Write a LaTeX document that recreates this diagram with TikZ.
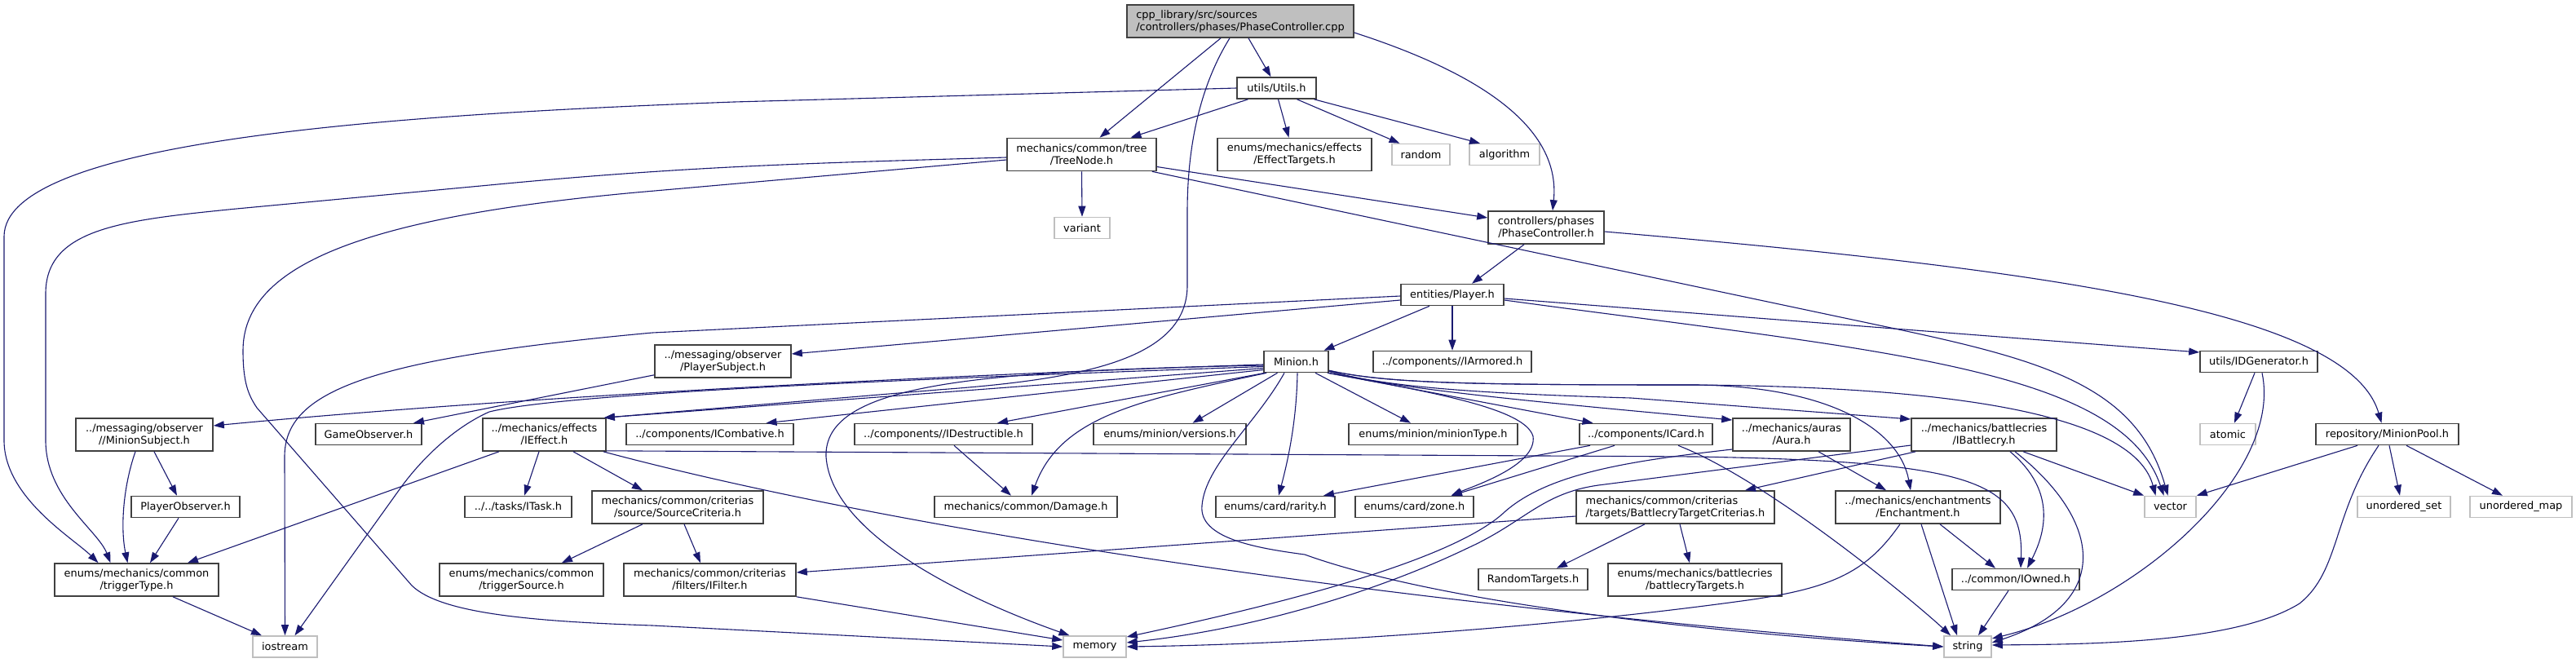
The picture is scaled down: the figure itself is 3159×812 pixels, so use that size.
\documentclass[tikz,border=0pt]{standalone}
\usepackage{fontspec}
\newfontfamily\dvs{DejaVu Sans}
\usetikzlibrary{arrows.meta}
\definecolor{edgeblue}{HTML}{191970}
\definecolor{boxline}{HTML}{404040}
\definecolor{sysline}{HTML}{BFBFBF}
\definecolor{rootfill}{HTML}{BFBFBF}
\begin{document}
\begin{tikzpicture}[x=1pt,y=-1pt,
  every node/.style={font=\dvs\fontsize{12.9pt}{15pt}\selectfont, inner sep=0pt, text=black},
  nb/.style={draw=boxline, line width=1.6pt, fill=white, minimum height=26pt},
  nb2/.style={nb, minimum height=40pt, align=center},
  gb/.style={draw=sysline, line width=1.6pt, fill=white, minimum height=26pt},
  conn/.style={draw=edgeblue, line width=1.1pt, -{Triangle[length=13pt,width=9pt]}}]
\fill[white] (0,0) rectangle (3159,812);
\useasboundingbox (0,0) rectangle (3159,812);
% nodes
\node[nb2, fill=rootfill, align=left, minimum width=278pt] (root) at (1521,26) {cpp\_library/src/sources\\/controllers/phases/PhaseController.cpp};
\node[nb, minimum width=97pt] (utils) at (1565.5,108) {utils/Utils.h};
\node[nb2, minimum width=183pt] (tree) at (1326.5,189.5) {mechanics/common/tree\\/TreeNode.h};
\node[nb2, minimum width=189pt] (efft) at (1587.5,189.5) {enums/mechanics/effects\\/EffectTargets.h};
\node[gb, minimum width=71pt] (random) at (1742.5,189.5) {random};
\node[gb, minimum width=86pt] (algo) at (1845,189.5) {algorithm};
\node[gb, minimum width=68pt] (variant) at (1327,279.5) {variant};
\node[nb2, minimum width=142pt] (phase) at (1896,279) {controllers/phases\\/PhaseController.h};
\node[nb, minimum width=126pt] (player) at (1781,361.5) {entities/Player.h};
\node[nb2, minimum width=167pt] (psub) at (886.5,443) {../messaging/observer\\/PlayerSubject.h};
\node[nb, minimum width=79pt] (minion) at (1589.5,443.5) {Minion.h};
\node[nb, minimum width=194pt] (iarm) at (1781,443.5) {../components//IArmored.h};
\node[nb, minimum width=144pt] (idgen) at (2770,443.5) {utils/IDGenerator.h};
\node[nb2, minimum width=168pt] (msub) at (177,533) {../messaging/observer\\//MinionSubject.h};
\node[nb, minimum width=130pt] (gobs) at (452,532.5) {GameObserver.h};
\node[nb2, minimum width=151pt] (ieff) at (667.5,533) {../mechanics/effects\\/IEffect.h};
\node[nb, minimum width=205pt] (icomb) at (870.5,532.5) {../components/ICombative.h};
\node[nb, minimum width=218pt] (idest) at (1157,532.5) {../components//IDestructible.h};
\node[nb, minimum width=187pt] (vers) at (1434.5,532.5) {enums/minion/versions.h};
\node[nb, minimum width=207pt] (mtype) at (1757.5,532.5) {enums/minion/minionType.h};
\node[nb, minimum width=163pt] (icard) at (2018.5,532.5) {../components/ICard.h};
\node[nb2, minimum width=144pt] (aura) at (2197,533) {../mechanics/auras\\/Aura.h};
\node[nb2, minimum width=178pt] (ibat) at (2433,533) {../mechanics/battlecries\\/IBattlecry.h};
\node[gb, minimum width=68pt] (atomic) at (2732,532.5) {atomic};
\node[nb, minimum width=175pt] (mpool) at (2927.5,532.5) {repository/MinionPool.h};
\node[nb, minimum width=133pt] (pobs) at (227.5,621.5) {PlayerObserver.h};
\node[nb, minimum width=131pt] (itask) at (635.5,621.5) {../../tasks/ITask.h};
\node[nb2, minimum width=210pt] (srcc) at (831,622) {mechanics/common/criterias\\/source/SourceCriteria.h};
\node[nb, minimum width=224pt] (damage) at (1258,621.5) {mechanics/common/Damage.h};
\node[nb, minimum width=146pt] (rarity) at (1564,621.5) {enums/card/rarity.h};
\node[nb, minimum width=145pt] (zone) at (1734.5,621.5) {enums/card/zone.h};
\node[nb2, align=left, minimum width=243pt] (btc) at (2054.5,622) {mechanics/common/criterias\\/targets/BattlecryTargetCriterias.h};
\node[nb2, minimum width=202pt] (ench) at (2352,622) {../mechanics/enchantments\\/Enchantment.h};
\node[gb, minimum width=63pt] (vector) at (2661.5,621.5) {vector};
\node[gb, minimum width=114pt] (uset) at (2948,621.5) {unordered\_set};
\node[gb, minimum width=125pt] (umap) at (3091.5,621.5) {unordered\_map};
\node[nb2, minimum width=201pt] (ttype) at (167.5,711) {enums/mechanics/common\\/triggerType.h};
\node[nb2, minimum width=201pt] (tsrc) at (639.5,711) {enums/mechanics/common\\/triggerSource.h};
\node[nb2, minimum width=211pt] (ifilt) at (870.5,711) {mechanics/common/criterias\\/filters/IFilter.h};
\node[nb, minimum width=134pt] (rtgt) at (1880,710.5) {RandomTargets.h};
\node[nb2, minimum width=213pt] (btgt) at (2078.5,711) {enums/mechanics/battlecries\\/battlecryTargets.h};
\node[nb, minimum width=156pt] (iowned) at (2472,710.5) {../common/IOwned.h};
\node[gb, minimum width=79pt] (iostream) at (349.5,793) {iostream};
\node[gb, minimum width=77pt] (memory) at (1342.5,793) {memory};
\node[gb, minimum width=58pt] (string) at (2413,793) {string};
% root
\draw[conn] ([xshift=-24pt]root.south) -- ([xshift=22pt]tree.north);
\draw[conn] ([xshift=10pt]root.south) -- ([xshift=-7pt]utils.north);
\draw[conn] ([xshift=-13pt]root.south) .. controls (1475,100) and (1456,170) .. (1456,260) -- (1456,350) .. controls (1456,440) and (1330,465) .. (1150,478) -- ([xshift=-3pt]ieff.north east);
\draw[conn] ([yshift=-14pt]root.east) .. controls (1800,85) and (1915,150) .. ([xshift=8pt]phase.north);
% utils
\draw[conn] ([xshift=-35pt]utils.south) -- ([xshift=60pt]tree.north);
\draw[conn] ([xshift=2pt]utils.south) -- ([xshift=-7pt]efft.north);
\draw[conn] ([xshift=25pt]utils.south) -- ([xshift=-26pt]random.north);
\draw[conn] ([xshift=46pt]utils.south) -- ([xshift=-30pt]algo.north);
\draw[conn] (utils.west) -- (900,125) .. controls (500,140) and (5,170) .. (5,290) -- (5,540) .. controls (5,610) and (90,660) .. ([xshift=-47pt]ttype.north);
% tree
\draw[conn] (tree.south) -- (variant.north);
\draw[conn] ([yshift=-15pt]tree.east) -- ([yshift=12pt]phase.west);
\draw[conn] ([xshift=-6pt]tree.south east) -- (2300,398) .. controls (2500,440) and (2620,470) .. ([xshift=-3pt]vector.north);
\draw[conn] ([yshift=-3.5pt]tree.west) .. controls (1000,200) and (850,203) .. (600,227) -- (290,256) .. controls (150,270) and (56,280) .. (56,360) -- (56,540) .. controls (56,610) and (120,650) .. ([xshift=-32pt]ttype.north);
\draw[conn] ([yshift=-6.5pt]tree.west) -- (780,236) .. controls (430,268) and (298,330) .. (298,430) .. controls (298,470) and (305,485) .. (315,500) -- (505,718) .. controls (540,752) and (650,762) .. (800,767) -- (memory.west);
% phase
\draw[conn] ([xshift=-27pt]phase.south) -- ([xshift=24pt]player.north);
\draw[conn] ([yshift=-5pt]phase.east) .. controls (2500,330) and (2880,380) .. ([xshift=-7pt]mpool.north);
% player
\draw[conn] ([xshift=-28pt]player.south) -- ([xshift=34pt]minion.north);
\draw[conn] (player.south) -- (iarm.north);
\draw[conn] ([yshift=-6.5pt]player.west) -- ([yshift=9pt]psub.east);
\draw[conn] ([yshift=-1.5pt]player.west) -- (800,408) .. controls (450,440) and (349,480) .. (349,560) -- (iostream.north);
\draw[conn] ([yshift=-4.5pt]player.east) -- ([yshift=11.5pt]idgen.west);
\draw[conn] ([yshift=-6.5pt]player.east) .. controls (2300,430) and (2600,450) .. ([xshift=-8pt]vector.north);
% minion
\draw[conn] ([yshift=-3.5pt]minion.west) .. controls (1300,455) and (700,480) .. ([yshift=11pt]msub.east);
\draw[conn] ([yshift=-6pt]minion.west) .. controls (1200,462) and (700,480) .. (600,505) .. controls (555,525) and (515,565) .. (490,600) -- ([xshift=12pt]iostream.north);
\draw[conn] ([yshift=-8pt]minion.west) -- ([xshift=-3pt]ieff.north east);
\draw[conn] ([yshift=-10pt]minion.west) -- ([xshift=69pt]icomb.north);
\draw[conn] ([xshift=2pt]minion.south west) -- ([xshift=66pt]idest.north);
\draw[conn] ([xshift=4pt]minion.south west) .. controls (1400,490) and (1300,510) .. ([xshift=7pt]damage.north);
\draw[conn] ([xshift=-23pt]minion.south) -- ([xshift=28pt]vers.north);
\draw[conn] ([yshift=-4.5pt]minion.west) .. controls (1200,455) and (1010,470) .. (1013,560) .. controls (1020,660) and (1200,740) .. ([xshift=-31pt]memory.north);
\draw[conn] ([xshift=1.5pt]minion.south) .. controls (1590,520) and (1578,570) .. ([xshift=4pt]rarity.north);
\draw[conn] ([xshift=-14.5pt]minion.south) .. controls (1540,520) and (1478,570) .. (1474,620) .. controls (1470,660) and (1540,672) .. (1600,680) .. controls (1780,745) and (2150,780) .. (string.west);
\draw[conn] ([xshift=23.5pt]minion.south) -- ([xshift=-27.5pt]mtype.north);
\draw[conn] ([xshift=-2pt]minion.south east) .. controls (1750,480) and (1870,500) .. (1880,535) .. controls (1885,570) and (1810,595) .. ([xshift=45pt]zone.north);
\draw[conn] ([xshift=-1pt]minion.south east) -- ([xshift=-65pt]icard.north);
\draw[conn] ([yshift=2pt]minion.south east) .. controls (1700,475) and (1850,490) .. ([yshift=18pt]aura.west);
\draw[conn] ([yshift=2pt]minion.south east) .. controls (1700,474) and (1800,482) .. (2000,488) -- ([yshift=19pt]ibat.west);
\draw[conn] ([yshift=3pt]minion.south east) .. controls (1700,470) and (1800,472) .. (2080,472) .. controls (2250,474) and (2330,530) .. ([xshift=-9pt]ench.north);
\draw[conn] ([yshift=3pt]minion.south east) .. controls (1700,470) and (1800,472) .. (2080,472) .. controls (2450,475) and (2620,520) .. ([xshift=-18pt]vector.north);
% observers
\draw[conn] ([yshift=4pt]psub.south west) -- ([xshift=55pt]gobs.north);
\draw[conn] ([xshift=12pt]msub.south) -- ([xshift=-10.5pt]pobs.north);
\draw[conn] ([xshift=-11pt]msub.south) .. controls (150,600) and (148,650) .. ([xshift=-11pt]ttype.north);
\draw[conn] ([xshift=-8.5pt]pobs.south) -- ([xshift=16.5pt]ttype.north);
\draw[conn] ([xshift=44.5pt]ttype.south) -- ([xshift=-28.5pt]iostream.north);
% ieffect
\draw[conn] ([xshift=-55.5pt]ieff.south) -- ([xshift=62.5pt]ttype.north);
\draw[conn] ([xshift=-6.5pt]ieff.south) -- ([xshift=7.5pt]itask.north);
\draw[conn] ([xshift=35.5pt]ieff.south) -- ([xshift=-43pt]srcc.north);
\draw[conn] ([yshift=1pt]ieff.south east) -- (2080,560) .. controls (2420,566) and (2482,590) .. ([xshift=6pt]iowned.north);
\draw[conn] ([xshift=-4pt]ieff.south east) .. controls (1100,650) and (1700,740) .. (string.west);
% criteria
\draw[conn] ([xshift=-43pt]srcc.south) -- ([xshift=49.5pt]tsrc.north);
\draw[conn] ([xshift=8pt]srcc.south) -- ([xshift=-11.5pt]ifilt.north);
\draw[conn] (ifilt.south east) -- ([yshift=8pt]memory.west);
\draw[conn] ([xshift=13pt]idest.south) -- ([xshift=-18pt]damage.north);
% icard
\draw[conn] ([xshift=-68.5pt]icard.south) -- ([xshift=59pt]rarity.north);
\draw[conn] ([xshift=-38.5pt]icard.south) -- ([xshift=45.5pt]zone.north);
\draw[conn] ([xshift=39.5pt]icard.south) .. controls (2170,590) and (2350,740) .. ([xshift=-21pt]string.north);
% aura
\draw[conn] ([xshift=33pt]aura.south) -- ([xshift=-39pt]ench.north);
\draw[conn] ([yshift=-18pt]aura.west) .. controls (2000,565) and (1900,580) .. (1846,627) .. controls (1780,690) and (1550,745) .. ([yshift=12pt]memory.east);
% ibattlecry
\draw[conn] ([xshift=6pt]ibat.south west) -- ([xshift=85.5pt]btc.north);
\draw[conn] ([yshift=-13pt]ibat.west) -- (1960,595) .. controls (1890,605) and (1870,640) .. (1800,672) .. controls (1700,720) and (1550,770) .. ([yshift=5pt]memory.east);
\draw[conn] ([xshift=48pt]ibat.south) -- (vector.north west);
\draw[conn] ([xshift=32pt]ibat.south) .. controls (2520,600) and (2510,650) .. ([xshift=14pt]iowned.north);
\draw[conn] ([xshift=38pt]ibat.south) .. controls (2580,640) and (2590,740) .. ([yshift=5pt]string.east);
% btc
\draw[conn] ([yshift=-11pt]btc.west) -- ([yshift=9pt]ifilt.east);
\draw[conn] ([xshift=-37.5pt]btc.south) -- ([xshift=29pt]rtgt.north);
\draw[conn] ([xshift=5.5pt]btc.south) -- ([xshift=-6.5pt]btgt.north);
% enchantment
\draw[conn] ([xshift=27pt]ench.south) -- ([xshift=-25pt]iowned.north);
\draw[conn] ([xshift=4pt]ench.south) -- ([xshift=-13pt]string.north);
\draw[conn] ([xshift=-22pt]ench.south) .. controls (2290,700) and (2250,720) .. (2150,735) .. controls (1900,770) and (1600,790) .. (memory.east);
\draw[conn] ([xshift=-9pt]iowned.south) -- ([xshift=13pt]string.north);
% idgen
\draw[conn] ([xshift=-5pt]idgen.south) -- ([xshift=8pt]atomic.north);
\draw[conn] ([xshift=4pt]idgen.south) .. controls (2800,580) and (2620,740) .. ([yshift=10pt]string.east);
% minion pool
\draw[conn] ([xshift=-36.5pt]mpool.south) -- (vector.north east);
\draw[conn] ([xshift=-10.5pt]mpool.south) .. controls (2860,630) and (2870,700) .. (2820,740) .. controls (2740,790) and (2550,790) .. ([yshift=2pt]string.east);
\draw[conn] ([xshift=2.5pt]mpool.south) -- ([xshift=-5pt]uset.north);
\draw[conn] ([xshift=23.5pt]mpool.south) -- ([xshift=-22.5pt]umap.north);
\end{tikzpicture}
\end{document}
